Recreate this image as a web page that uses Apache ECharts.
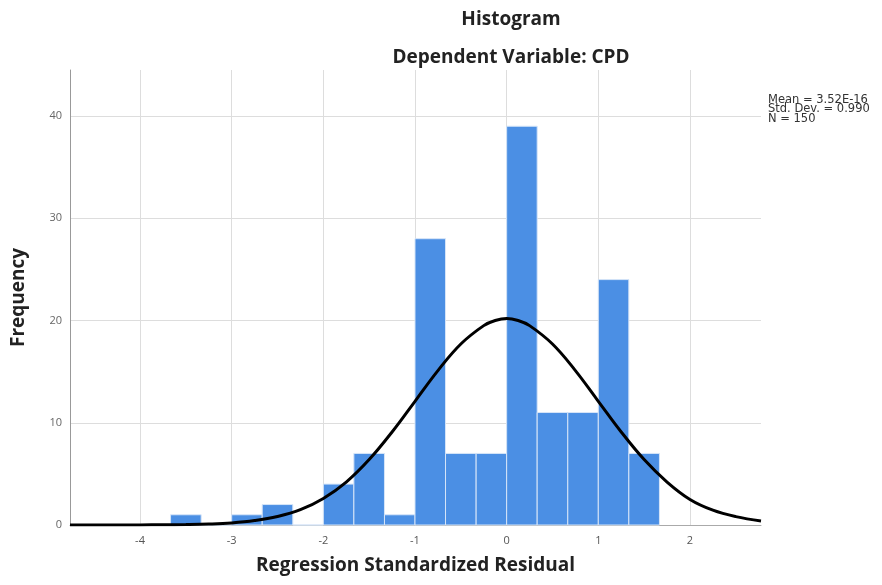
<!DOCTYPE html>
<html>
<head>
<meta charset="utf-8">
<title>Histogram</title>
<script src="https://cdn.jsdelivr.net/npm/echarts@6/dist/echarts.min.js"></script>
<style>
  html, body { margin: 0; padding: 0; background: #fff; }
  #chart { width: 882px; height: 585px; }
</style>
</head>
<body>
<div id="chart"></div>
<script>
// histogram bins (regression standardized residual), width 1/3
const binEdges = [-3.667, -3.333, -3, -2.667, -2.333, -2, -1.667, -1.333, -1,
  -0.667, -0.333, 0, 0.333, 0.667, 1, 1.333, 1.667]
const counts = [1, 0, 1, 2, 0, 4, 7, 1, 28, 7, 7, 39, 11, 11, 24, 7]

// normal curve
const curveX = [-4.764, -4.5, -4.25, -4, -3.75, -3.5, -3.25, -3, -2.75, -2.5, -2.25,
  -2, -1.75, -1.5, -1.25, -1, -0.75, -0.5, -0.25, -0.125, 0, 0.125, 0.25, 0.5, 0.75,
  1, 1.25, 1.5, 1.75, 2, 2.25, 2.5, 2.775]
const curveY = [0, 0, 0, 0.01, 0.02, 0.04, 0.09, 0.2, 0.43, 0.83, 1.5,
  2.6, 4.2, 6.4, 9.1, 12.1, 15.1, 17.7, 19.5, 20.0, 20.2, 20.0, 19.5, 17.7, 15.1,
  12.1, 9.1, 6.4, 4.2, 2.5, 1.45, 0.82, 0.4]

const statsLines = ["Mean = 3.52E-16", "Std. Dev. = 0.990", "N = 150"]

const barData = counts.map((c, i) => [binEdges[i], binEdges[i + 1], c])
const lineData = curveX.map((x, i) => [x, curveY[i]])

const font = "'Open Sans', 'DejaVu Sans', sans-serif"
const boldText = { fontFamily: font, fontSize: 19, fontWeight: "bold", color: "#222" }

const chart = echarts.init(document.getElementById("chart"))
chart.setOption({
  animation: false,
  backgroundColor: "#fff",
  title: [
    { text: "Histogram", left: 506, top: 5, textAlign: "center", textStyle: boldText },
    { text: "Dependent Variable: CPD", left: 506, top: 43, textAlign: "center", textStyle: boldText }
  ],
  graphic: [{
    type: "text",
    left: 768, top: 94,
    style: {
      text: statsLines.join("\n"),
      font: "11.5px 'DejaVu Sans', sans-serif",
      lineHeight: 9.5,
      fill: "#333"
    }
  }],
  grid: { left: 70, right: 121, top: 70, bottom: 60 },
  xAxis: {
    type: "value",
    min: -4.764, max: 2.775,
    minInterval: 1, maxInterval: 1,
    name: "Regression Standardized Residual",
    nameLocation: "middle",
    nameGap: 31,
    nameTextStyle: boldText,
    axisLine: { onZero: false, lineStyle: { color: "#aaa", width: 1 } },
    axisTick: { show: false },
    axisLabel: {
      showMinLabel: false, showMaxLabel: false,
      margin: 10, fontFamily: font, fontSize: 11, color: "#555"
    },
    splitLine: { show: true, showMinLine: false, showMaxLine: false, lineStyle: { color: "#ddd" } }
  },
  yAxis: {
    type: "value",
    min: 0, max: 44.5, interval: 10,
    name: "Frequency",
    nameLocation: "middle",
    nameGap: 42,
    nameTextStyle: boldText,
    axisLine: { show: true, onZero: false, lineStyle: { color: "#999", width: 1 } },
    axisTick: { show: false },
    axisLabel: {
      showMaxLabel: false,
      margin: 8, fontFamily: font, fontSize: 11, color: "#666"
    },
    splitLine: { show: true, showMaxLine: false, lineStyle: { color: "#ddd" } }
  },
  series: [
    {
      type: "custom",
      data: barData,
      encode: { x: [0, 1], y: 2 },
      renderItem(params, api) {
        const top = api.coord([api.value(0), api.value(2)])
        const bottom = api.coord([api.value(1), 0])
        return {
          type: "rect",
          shape: { x: top[0], y: top[1], width: bottom[0] - top[0], height: bottom[1] - top[1] },
          style: { fill: "#4b8fe4", stroke: "#d6e5f8", lineWidth: 1 }
        }
      },
      z: 2
    },
    {
      type: "line",
      data: lineData,
      smooth: 0.4,
      showSymbol: false,
      lineStyle: { color: "#000", width: 3 },
      z: 3
    }
  ]
})
</script>
</body>
</html>
